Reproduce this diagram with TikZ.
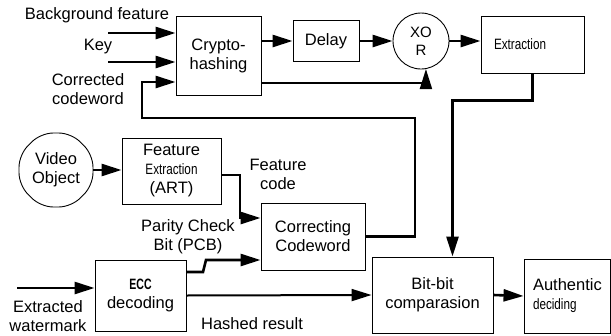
\documentclass[tikz,border=0pt]{standalone}
\usepackage{fontspec}
\setmainfont{Liberation Sans}
\usepackage{graphicx}
\usetikzlibrary{arrows.meta,shapes.geometric}
\newcommand\diagfont{\fontsize{16.5}{19}\selectfont}
\newcommand\tinyfont{\fontsize{15}{18}\selectfont}
\newcommand\narrowtext[1]{\scalebox{0.78}[1]{#1}}

\begin{document}
\begin{tikzpicture}[x=1pt,y=-1pt,>={Triangle[length=20pt 0 0,width=12pt 0 0]},line join=miter]
\path[fill=white] (0,0) rectangle (611,335);
\tikzset{blk/.style={draw=black,line width=0.9pt,align=center,font=\diagfont,inner sep=0pt},sig/.style={draw=black,line width=2.6pt,->},thinsig/.style={sig,line width=2pt},lbl/.style={align=center,font=\diagfont,inner sep=0pt}}
\node[blk,minimum width=85pt,minimum height=79pt] (hash) at (218.5,55.5) {Crypto-\\hashing};
\node[blk,minimum width=66pt,minimum height=41pt] (delay) at (326,41) {Delay};
\node[blk,circle,minimum size=56pt,font=\tinyfont] (xor) at (421,41) {XO\\R};
\node[blk,minimum width=103pt,minimum height=57pt,text width=77pt,inner xsep=13pt,align=left,font=\tinyfont] (extr) at (532.5,44.5) {\narrowtext{Extraction}};
\node[blk,regular polygon,regular polygon sides=8,minimum size=80pt,rounded corners=12pt] (vid) at (56,170) {Video\\Object};
\node[blk,minimum width=99pt,minimum height=66pt] (fe) at (171.5,171) {Feature\\{\tinyfont\narrowtext{Extraction}}\\(ART)};
\node[blk,minimum width=104pt,minimum height=67pt] (cc) at (313,236.5) {Correcting\\Codeword};
\node[blk,minimum width=91pt,minimum height=71pt] (ecc) at (140.5,295.5) {{\tinyfont\scalebox{0.7}[1]{\bfseries ECC}}\\decoding};
\node[blk,minimum width=121pt,minimum height=76pt] (bb) at (432.5,295) {Bit-bit\\comparasion};
\node[blk,minimum width=86pt,minimum height=74pt,text width=68pt,inner xsep=9pt,align=left] (auth) at (567,296) {Authentic\\{\tinyfont\narrowtext{deciding}}};
\node[lbl] (bglbl) at (97,15) {Background feature};
\node[lbl] (keylbl) at (98,47) {Key};
\node[lbl] (cwlbl) at (88,89) {Corrected\\codeword};
\node[lbl] (fclbl) at (278,174) {Feature\\code};
\node[lbl] (pcblbl) at (188,237) {Parity Check\\Bit (PCB)};
\node[lbl] (hrlbl) at (252,324) {Hashed result};
\node[lbl] (wmlbl) at (48,316) {Extracted\\watermark};
\coordinate (bgin) at (108,33);
\coordinate (keyin) at (108,62);
\coordinate (wmin) at (17,288);
\draw[sig] (bgin) -- (hash.west |- bgin);
\draw[sig] (keyin) -- (hash.west |- keyin);
\draw[sig] (hash.east |- delay.west) -- (delay.west);
\draw[sig] (delay.east) -- (xor.west);
\draw[sig] (xor.east) -- (extr.west |- xor.east);
\draw[thinsig] (hash.east |- 0,83) -| (xor.-80);
\draw[sig] (extr.south) -- ++(0,27) -| ([xshift=20pt]bb.north);
\draw[sig] (cc.east) -| (415,118) -| (142,82) -- (hash.west |- 0,82);
\draw[sig] (vid.east) -- (fe.west |- vid.east);
\draw[sig] (fe.east |- 0,175) -| (240,218) -- (cc.west |- 0,218);
\draw[sig] (ecc.east |- 0,272) -- (203,272) -- (206,260) -- (cc.west |- 0,260);
\draw[sig] (wmin) -- (ecc.west |- wmin);
\draw[thinsig] (ecc.east) -- (bb.west);
\draw[sig] (bb.east) -- (auth.west);
\end{tikzpicture}
\end{document}
